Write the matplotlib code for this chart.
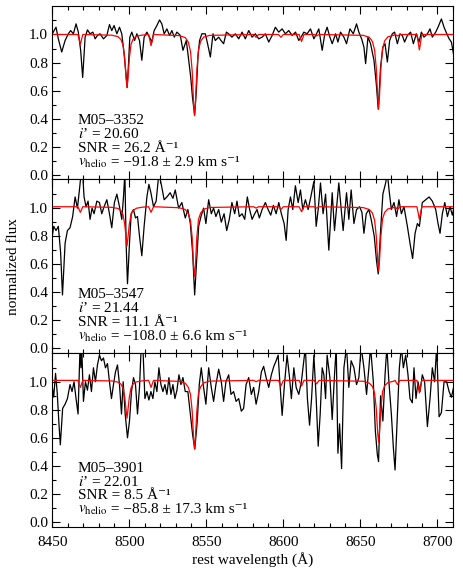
import matplotlib
matplotlib.use('Agg')
import matplotlib.pyplot as plt
import numpy as np
from matplotlib.ticker import MultipleLocator, FixedLocator

plt.rcParams['font.family'] = ['Liberation Serif', 'DejaVu Serif']
plt.rcParams['mathtext.fontset'] = 'stix'
plt.rcParams['font.size'] = 11

p1_wave = [8450.0, 8452.4, 8453.9, 8456.1, 8458.3, 8460.4, 8461.9, 8463.7, 8465.4, 8466.9,
           8468.4, 8469.7, 8471.3, 8472.8, 8474.5, 8476.3, 8477.8, 8479.3, 8481.0, 8483.2,
           8485.4, 8487.1, 8488.6, 8490.1, 8491.9, 8493.6, 8495.1, 8496.6, 8498.6, 8499.5,
           8500.3, 8501.6, 8503.4, 8504.9, 8506.6, 8508.1, 8509.6, 8511.4, 8513.1, 8514.6,
           8516.1, 8517.9, 8519.6, 8521.1, 8522.6, 8524.4, 8526.1, 8527.6, 8529.2, 8530.9,
           8533.1, 8534.8, 8537.0, 8538.5, 8539.8, 8541.0, 8542.4, 8543.5, 8544.6, 8545.6,
           8547.1, 8549.3, 8550.8, 8552.6, 8554.3, 8555.8, 8558.0, 8559.5, 8561.2, 8563.0,
           8564.5, 8566.6, 8568.8, 8571.0, 8573.2, 8575.3, 8577.5, 8579.7, 8581.8, 8584.0,
           8586.2, 8588.3, 8590.5, 8592.7, 8594.8, 8597.0, 8599.2, 8601.3, 8603.5, 8605.7,
           8607.9, 8610.0, 8611.5, 8613.3, 8615.4, 8617.6, 8619.8, 8621.5, 8623.0, 8625.2,
           8626.9, 8628.4, 8630.2, 8631.7, 8633.9, 8635.4, 8637.1, 8639.3, 8641.0, 8643.2,
           8645.4, 8647.5, 8649.0, 8650.8, 8652.3, 8653.4, 8654.9, 8656.6, 8658.8, 8660.3,
           8661.6, 8663.1, 8664.6, 8666.0, 8667.5, 8669.0, 8670.7, 8672.2, 8674.0, 8675.7,
           8677.2, 8678.7, 8680.5, 8682.6, 8684.4, 8686.3, 8688.1, 8689.6, 8691.3, 8693.5,
           8695.2, 8696.7, 8698.9, 8700.4, 8702.6, 8704.3, 8706.1, 8707.6, 8709.1, 8710.4]
p1_flux = [1.005, 1.052, 0.969, 0.875, 0.957, 1.005, 1.028, 1.005, 1.076, 1.017,
           0.887, 0.693, 0.981, 1.033, 1.005, 1.017, 0.969, 0.993, 1.005, 0.969,
           0.993, 1.071, 1.028, 1.064, 1.005, 1.052, 1.005, 0.863, 0.622, 0.80,
           0.98, 1.017, 0.957, 1.005, 0.957, 0.816, 0.981, 1.017, 0.981, 0.946,
           1.028, 1.064, 1.104, 1.076, 1.005, 1.040, 0.993, 1.028, 0.981, 1.017,
           0.993, 0.887, 0.957, 0.816, 0.70, 0.55, 0.426, 0.60, 0.85, 0.957,
           1.005, 1.005, 0.934, 0.839, 1.005, 0.957, 0.981, 0.957, 0.934, 1.017,
           1.005, 0.981, 1.005, 0.969, 1.017, 0.969, 1.028, 0.981, 1.005, 0.969,
           0.981, 1.005, 0.946, 0.993, 1.052, 1.017, 1.040, 1.005, 1.028, 0.993,
           1.017, 0.957, 0.981, 1.017, 1.005, 1.040, 0.969, 1.005, 1.040, 0.887,
           1.005, 1.052, 0.981, 0.934, 1.005, 0.946, 1.017, 0.981, 0.934, 1.040,
           1.005, 1.076, 1.017, 0.969, 0.910, 0.792, 0.981, 0.934, 0.816, 0.650,
           0.466, 0.768, 0.910, 0.934, 0.804, 0.957, 1.005, 1.017, 0.934, 1.005,
           0.993, 0.946, 0.993, 1.017, 0.934, 1.005, 0.946, 1.017, 0.981, 1.005,
           1.040, 0.981, 1.017, 1.052, 1.111, 1.052, 1.005, 0.969, 0.946, 0.863]

p2_wave = [8450.0, 8450.9, 8452.4, 8453.9, 8455.4, 8456.6, 8458.3, 8459.8, 8461.5, 8463.2,
           8464.8, 8466.3, 8467.6, 8468.7, 8469.7, 8470.6, 8471.9, 8473.2, 8474.5, 8475.8,
           8477.1, 8478.9, 8480.6, 8482.1, 8483.6, 8485.4, 8487.1, 8488.6, 8490.3, 8491.9,
           8493.6, 8495.1, 8496.2, 8497.1, 8497.9, 8498.8, 8500.1, 8501.2, 8502.7, 8504.0,
           8505.3, 8506.6, 8508.1, 8509.6, 8511.4, 8512.7, 8514.0, 8515.7, 8517.4, 8519.2,
           8520.9, 8522.6, 8524.4, 8526.5, 8528.3, 8529.8, 8532.0, 8534.1, 8536.3, 8538.0,
           8539.6, 8541.1, 8542.4, 8543.7, 8545.0, 8546.5, 8548.2, 8549.7, 8551.5, 8553.2,
           8554.7, 8556.2, 8558.0, 8559.7, 8561.5, 8563.2, 8564.9, 8566.6, 8568.4, 8569.9,
           8571.4, 8573.2, 8574.9, 8576.6, 8578.1, 8579.7, 8581.4, 8582.9, 8584.4, 8586.2,
           8588.3, 8590.1, 8591.8, 8593.5, 8595.3, 8597.0, 8598.7, 8600.5, 8601.8, 8603.1,
           8604.6, 8606.1, 8607.8, 8609.6, 8611.1, 8612.6, 8614.3, 8616.1, 8617.8, 8619.8,
           8621.3, 8622.6, 8624.1, 8625.8, 8627.4, 8629.5, 8631.7, 8633.2, 8636.0, 8638.8,
           8641.0, 8642.5, 8644.0, 8645.8, 8647.5, 8649.5, 8651.0, 8652.3, 8653.8, 8655.5,
           8657.0, 8659.0, 8660.5, 8661.6, 8663.0, 8664.6, 8666.4, 8667.5, 8668.6, 8670.1,
           8671.8, 8673.5, 8675.0, 8676.6, 8678.3, 8680.5, 8682.2, 8683.9, 8685.5, 8687.0,
           8688.3, 8690.2, 8692.4, 8694.6, 8696.7, 8698.9, 8700.4, 8701.7, 8703.2, 8704.8,
           8706.5, 8708.2, 8709.7, 8710.5]
p2_flux = [0.80, 0.87, 0.84, 0.87, 0.68, 0.38, 0.75, 0.84, 0.86, 0.94,
           1.08, 1.00, 1.13, 1.25, 1.25, 1.08, 1.01, 1.05, 0.92, 1.00,
           0.96, 1.05, 1.04, 0.96, 1.01, 1.06, 0.96, 0.86, 1.04, 1.10,
           1.01, 0.92, 1.08, 1.25, 0.75, 0.46, 0.75, 0.96, 0.99, 0.93,
           0.94, 0.80, 0.66, 0.87, 1.08, 1.17, 1.11, 1.01, 1.05, 1.25,
           1.16, 1.06, 1.08, 1.11, 1.07, 1.13, 1.00, 1.04, 0.93, 0.99,
           0.89, 0.68, 0.38, 0.63, 0.87, 0.94, 1.00, 0.89, 1.06, 0.96,
           1.00, 0.94, 0.99, 0.90, 0.96, 0.84, 0.92, 1.04, 0.96, 1.05,
           0.94, 0.96, 0.92, 1.08, 0.99, 0.92, 0.96, 0.99, 0.93, 0.99,
           1.04, 0.99, 0.95, 1.02, 0.96, 1.04, 0.96, 0.89, 0.77, 0.99,
           1.08, 0.99, 1.16, 1.04, 1.13, 0.99, 1.06, 0.99, 1.08, 1.19,
           0.87, 0.99, 1.18, 0.96, 1.10, 0.70, 1.11, 0.84, 1.18, 0.84,
           1.11, 0.92, 1.13, 0.89, 0.99, 1.01, 0.97, 0.82, 0.96, 0.99,
           0.92, 0.80, 0.62, 0.53, 0.82, 1.10, 1.18, 1.25, 1.13, 0.99,
           1.04, 0.94, 1.06, 0.96, 1.01, 0.87, 0.75, 0.64, 0.82, 0.89,
           0.87, 1.04, 1.06, 1.08, 1.05, 0.99, 0.89, 0.82, 0.96, 1.04,
           0.94, 1.01, 0.95, 0.99]

p3_wave = [8450.0, 8450.9, 8452.1, 8453.2, 8454.3, 8455.2, 8456.7, 8458.3, 8459.8, 8461.5,
           8462.8, 8464.1, 8465.4, 8466.7, 8468.0, 8468.6, 8469.1, 8470.2, 8471.5, 8472.8,
           8474.1, 8475.4, 8476.7, 8478.0, 8479.3, 8480.6, 8481.9, 8483.2, 8484.5, 8485.8,
           8487.1, 8488.4, 8489.7, 8491.0, 8492.3, 8493.6, 8494.9, 8496.0, 8497.3, 8498.8,
           8500.1, 8501.4, 8502.7, 8504.0, 8505.3, 8506.6, 8507.7, 8508.8, 8510.1, 8511.4,
           8512.7, 8514.0, 8515.3, 8516.6, 8517.9, 8519.2, 8520.5, 8521.8, 8523.1, 8524.4,
           8525.7, 8527.0, 8528.3, 8529.6, 8530.9, 8532.2, 8533.5, 8534.8, 8536.3, 8538.0,
           8539.6, 8541.1, 8542.5, 8544.1, 8545.4, 8546.7, 8548.2, 8549.7, 8551.5, 8553.2,
           8554.7, 8556.2, 8558.0, 8559.7, 8561.2, 8562.7, 8564.5, 8566.0, 8567.7, 8569.3,
           8571.0, 8572.7, 8574.2, 8575.8, 8577.5, 8579.2, 8580.7, 8582.3, 8584.0, 8585.7,
           8587.2, 8588.8, 8590.5, 8592.2, 8593.8, 8595.3, 8596.6, 8597.7, 8599.2, 8600.7,
           8602.4, 8604.0, 8605.2, 8606.8, 8608.3, 8610.0, 8611.7, 8613.3, 8614.3, 8615.6,
           8617.0, 8618.3, 8619.8, 8621.3, 8622.6, 8623.9, 8625.2, 8626.3, 8627.4, 8628.4,
           8630.2, 8631.7, 8633.2, 8634.3, 8635.4, 8636.5, 8637.8, 8639.3, 8641.0, 8642.5,
           8644.0, 8645.8, 8647.5, 8649.0, 8650.5, 8652.3, 8654.0, 8655.5, 8656.6, 8658.4,
           8659.7, 8661.0, 8661.8, 8663.1, 8664.6, 8666.0, 8667.2, 8668.5, 8670.1, 8671.4,
           8672.5, 8674.0, 8675.3, 8676.6, 8677.9, 8679.4, 8680.9, 8682.2, 8683.7, 8684.8,
           8686.1, 8687.4, 8688.7, 8690.2, 8691.7, 8693.5, 8695.2, 8696.7, 8698.2, 8699.5,
           8701.1, 8702.6, 8704.3, 8706.0, 8707.6, 8709.1, 8710.5]
p3_flux = [0.96, 0.89, 1.06, 0.92, 0.70, 0.55, 0.81, 0.84, 0.88, 0.98,
           0.93, 1.00, 0.88, 0.77, 1.25, 1.10, 1.25, 0.86, 1.00, 0.94,
           1.05, 0.93, 1.10, 1.00, 1.12, 1.19, 1.15, 1.17, 1.10, 1.13,
           1.00, 0.88, 0.98, 1.07, 1.12, 0.98, 0.77, 1.00, 0.77, 0.60,
           0.72, 0.93, 1.03, 0.98, 0.77, 0.96, 1.25, 1.25, 0.88, 0.93,
           0.87, 0.93, 0.88, 1.00, 0.93, 1.10, 0.98, 0.93, 0.98, 0.91,
           1.03, 0.91, 0.98, 0.88, 0.94, 1.05, 0.98, 1.03, 0.93, 0.93,
           0.77, 0.62, 0.52, 0.72, 0.98, 1.10, 0.96, 0.84, 1.10, 0.96,
           0.86, 0.98, 1.09, 1.00, 0.86, 1.00, 1.05, 0.91, 0.93, 0.86,
           0.88, 0.79, 0.81, 0.98, 1.03, 0.91, 0.96, 0.84, 0.93, 1.07,
           1.11, 1.03, 0.96, 1.05, 1.11, 1.15, 1.19, 1.00, 0.76, 0.98,
           1.19, 1.03, 0.88, 1.10, 0.96, 0.91, 1.00, 1.15, 1.25, 0.88,
           0.69, 0.88, 1.19, 0.88, 0.54, 0.77, 1.10, 1.05, 0.88, 1.19,
           1.03, 0.73, 1.05, 1.25, 0.49, 0.70, 0.38, 1.10, 1.25, 0.96,
           1.15, 1.10, 0.98, 1.03, 1.25, 1.10, 0.91, 1.10, 1.25, 1.00,
           0.65, 0.48, 0.43, 0.90, 0.72, 1.05, 1.25, 1.00, 0.77, 0.53,
           0.37, 0.77, 1.10, 1.25, 1.10, 1.19, 1.05, 0.88, 0.85, 1.10,
           0.88, 1.00, 0.93, 1.05, 1.00, 0.68, 0.88, 1.10, 1.00, 1.25,
           0.75, 0.78, 1.00, 1.00, 0.93, 0.89, 0.96]

# best-fitting template spectra (red)
model_wave = [8450, 8466.6, 8468.2, 8469.8,
              8488.5, 8492.5, 8494.5, 8495.9, 8497.0, 8497.9, 8498.5, 8499.1, 8500.0, 8501.1,
              8502.5, 8504.5, 8508.5,
              8512.5, 8514.1, 8515.7,
              8532.3, 8536.3, 8538.3, 8539.7, 8540.8, 8541.7, 8542.3, 8542.9, 8543.8, 8544.9,
              8546.3, 8548.3, 8552.3,
              8580.7, 8582.3, 8583.9,
              8596.8, 8598.4, 8600.0,
              8610.2, 8611.8, 8613.4,
              8620.0, 8621.6, 8623.2,
              8651.8, 8655.8, 8657.8, 8659.2, 8660.3, 8661.2, 8661.8, 8662.4, 8663.3, 8664.4,
              8665.8, 8667.8, 8671.8,
              8672.5, 8674.1, 8675.7,
              8686.7, 8688.3, 8689.9,
              8710]
model1 = [1.0, 1.0, 0.93, 1.0,
          0.995, 0.985, 0.965, 0.925, 0.83, 0.69, 0.62, 0.69, 0.83, 0.93,
          0.968, 0.988, 0.996,
          1.0, 0.92, 1.0,
          0.992, 0.978, 0.945, 0.88, 0.74, 0.51, 0.42, 0.51, 0.74, 0.89,
          0.952, 0.982, 0.994,
          1.0, 0.98, 1.0,
          1.0, 0.98, 1.0,
          1.0, 0.95, 1.0,
          1.0, 0.99, 1.0,
          0.994, 0.98, 0.95, 0.89, 0.76, 0.56, 0.47, 0.56, 0.76, 0.90,
          0.955, 0.983, 0.995,
          1.0, 0.99, 1.0,
          1.0, 0.89, 1.0,
          1.0]
model2 = [1.01, 1.01, 0.97, 1.01,
          1.006, 0.998, 0.983, 0.953, 0.885, 0.79, 0.73, 0.79, 0.885, 0.955,
          0.983, 0.999, 1.007,
          1.01, 0.97, 1.01,
          1.003, 0.99, 0.96, 0.91, 0.79, 0.59, 0.51, 0.59, 0.79, 0.92,
          0.965, 0.992, 1.005,
          1.01, 1.0, 1.01,
          1.01, 0.99, 1.01,
          1.01, 0.975, 1.01,
          1.01, 1.0, 1.01,
          1.004, 0.99, 0.965, 0.915, 0.80, 0.625, 0.55, 0.625, 0.80, 0.925,
          0.97, 0.994, 1.005,
          1.01, 0.99, 1.01,
          1.01, 0.92, 1.01,
          1.01]
model3 = [1.01, 1.01, 0.96, 1.01,
          1.006, 0.998, 0.984, 0.955, 0.89, 0.80, 0.74, 0.80, 0.89, 0.957,
          0.984, 0.999, 1.007,
          1.01, 0.96, 1.01,
          1.003, 0.99, 0.96, 0.91, 0.79, 0.60, 0.52, 0.60, 0.79, 0.92,
          0.965, 0.992, 1.005,
          1.01, 1.0, 1.01,
          1.01, 0.97, 1.01,
          1.01, 0.97, 1.01,
          1.01, 0.985, 1.01,
          1.004, 0.99, 0.967, 0.92, 0.81, 0.64, 0.57, 0.64, 0.81, 0.93,
          0.972, 0.994, 1.005,
          1.01, 0.98, 1.01,
          1.01, 0.92, 1.01,
          1.01]

names = ['M05\u20133352', 'M05\u20133547', 'M05\u20133901']
mags = ['20.60', '21.44', '22.01']
snrs = ['26.2', '11.1', '8.5']
vels = ['\u221291.8', '\u2212108.0', '\u221285.8']
verrs = ['2.9', '6.6', '17.3']

waves = [p1_wave, p2_wave, p3_wave]
fluxes = [p1_flux, p2_flux, p3_flux]
models = [model1, model2, model3]

fig, axes = plt.subplots(3, 1, sharex=True, figsize=(4.63, 5.79), dpi=100)
fig.subplots_adjust(left=0.113, right=0.978, bottom=0.0903, top=0.990, hspace=0)
renderer = fig.canvas.get_renderer()

for i, ax in enumerate(axes):
    ax.plot(np.array(waves[i]), np.array(fluxes[i]), color='k', lw=0.9)
    ax.plot(np.array(model_wave), np.array(models[i]), color='#ff0000', lw=0.9)
    ax.set_xlim(8450, 8710)
    ax.set_ylim(-0.035, 1.205)
    ax.xaxis.set_major_locator(MultipleLocator(50))
    ax.xaxis.set_minor_locator(MultipleLocator(10))
    ax.yaxis.set_major_locator(FixedLocator([0.0, 0.2, 0.4, 0.6, 0.8, 1.0]))
    ax.yaxis.set_minor_locator(FixedLocator([0.1, 0.3, 0.5, 0.7, 0.9, 1.1]))
    ax.yaxis.set_major_formatter(plt.FormatStrFormatter('%.1f'))
    ax.tick_params(which='both', direction='in', top=True, right=True, width=0.8)
    ax.tick_params(which='major', length=6, labelsize=11, pad=3)
    ax.tick_params(which='minor', length=3)
    ax.tick_params(axis='x', pad=7)
    for sp in ax.spines.values():
        sp.set_linewidth(0.8)

    # star info, one line per text, baselines
    tx = 0.063
    ax.text(tx, 0.317, names[i], transform=ax.transAxes, va='baseline', fontsize=11)
    ax.text(tx, 0.236, '$i$\u2019 = ' + mags[i], transform=ax.transAxes, va='baseline', fontsize=11)
    ax.text(tx, 0.158, 'SNR = ' + snrs[i] + ' \u00c5\u207b\u00b9', transform=ax.transAxes,
            va='baseline', fontsize=11)
    tv = ax.text(tx, 0.077, r'$v_{\rm helio}$', transform=ax.transAxes, va='baseline', fontsize=11)
    bb = tv.get_window_extent(renderer)
    x_next = ax.transAxes.inverted().transform((bb.x1, bb.y0))[0]
    ax.text(x_next, 0.077, ' = ' + vels[i] + ' \u00b1 ' + verrs[i] + ' km s\u207b\u00b9',
            transform=ax.transAxes, va='baseline', fontsize=11)

axes[2].set_xlabel('rest wavelength (\u00c5)', fontsize=11, labelpad=2)
fig.text(0.03, (0.0903 + 0.990) / 2, 'normalized flux', rotation=90, va='center', ha='center',
         fontsize=11)

plt.savefig('out.png', dpi=100)
